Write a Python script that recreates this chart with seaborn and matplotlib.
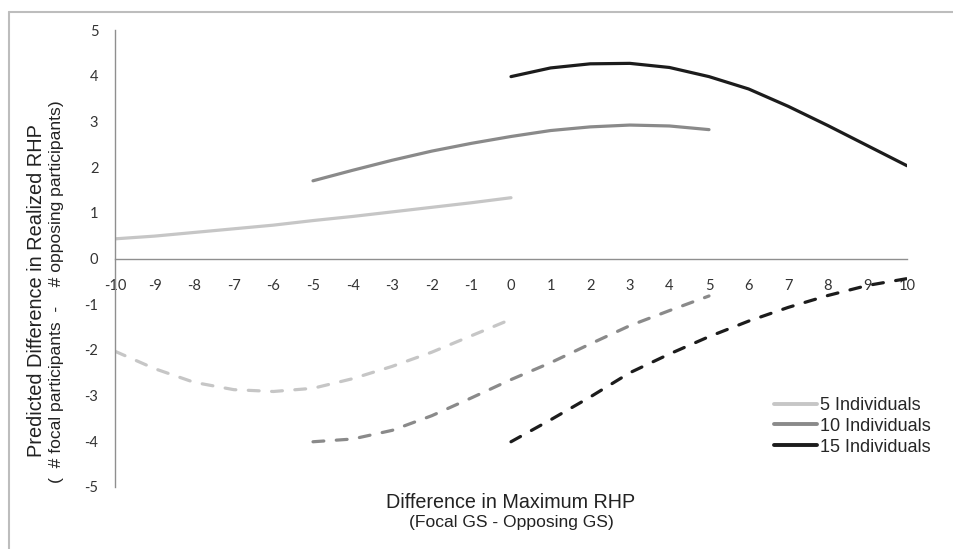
import numpy as np
import pandas as pd
import matplotlib
matplotlib.use("Agg")
import matplotlib.pyplot as plt
import seaborn as sns
from matplotlib.lines import Line2D

# values
groups = ["5 Individuals", "10 Individuals", "15 Individuals"]
colors = ["#c6c6c6", "#8a8a8a", "#1c1c1c"]

x_5 = [-10, -9, -8, -7, -6, -5, -4, -3, -2, -1, 0]
x_10 = [-5, -4, -3, -2, -1, 0, 1, 2, 3, 4, 5]
x_15 = [0, 1, 2, 3, 4, 5, 6, 7, 8, 9, 10]

# solid curves
solid_5 = [0.43, 0.49, 0.57, 0.65, 0.73, 0.83, 0.92, 1.02, 1.12, 1.22, 1.33]
solid_10 = [1.70, 1.93, 2.15, 2.35, 2.52, 2.67, 2.80, 2.88, 2.92, 2.90, 2.82]
solid_15 = [3.98, 4.17, 4.26, 4.27, 4.18, 3.98, 3.71, 3.33, 2.91, 2.47, 2.03]

# dashed curves
dashed_5 = [-2.03, -2.41, -2.71, -2.87, -2.91, -2.84, -2.63, -2.36, -2.05, -1.69, -1.33]
dashed_10 = [-4.01, -3.95, -3.76, -3.44, -3.05, -2.65, -2.28, -1.87, -1.47, -1.14, -0.82]
dashed_15 = [-4.01, -3.53, -3.03, -2.50, -2.09, -1.71, -1.37, -1.07, -0.81, -0.59, -0.44]

xs = [x_5, x_10, x_15]
solids = [solid_5, solid_10, solid_15]
dashes_ = [dashed_5, dashed_10, dashed_15]

rows = []
for g, x, s, d in zip(groups, xs, solids, dashes_):
    for xi, si, di in zip(x, s, d):
        rows.append({"group": g, "x": xi, "solid": si, "dashed": di})
df = pd.DataFrame(rows)

sns.set_style("white")
plt.rcParams["font.family"] = ["Liberation Sans", "DejaVu Sans"]
plt.rcParams["axes.unicode_minus"] = False

fig = plt.figure(figsize=(9.54, 5.49), dpi=100)
ax = fig.add_axes([115 / 954, 1 - 487 / 549, (907 - 115) / 954, (487 - 30) / 549])

pal = dict(zip(groups, colors))
sns.lineplot(data=df, x="x", y="solid", hue="group", palette=pal, linewidth=2.3,
             legend=False, ax=ax)
sns.lineplot(data=df, x="x", y="dashed", hue="group", palette=pal, linewidth=2.3,
             legend=False, ax=ax)
for line in ax.lines[3:]:
    line.set_dashes((3.4, 3.9))
    line.set_dash_capstyle("round")
for line in ax.lines[:3]:
    line.set_solid_capstyle("round")

ax.set_xlim(-10, 10)
ax.set_ylim(-5, 5)
ax.set_xticks(range(-10, 11))
ax.set_yticks(range(-5, 6))
ax.set_xlabel("")
ax.set_ylabel("")

axis_gray = "#8f8f8f"
for side in ["top", "right"]:
    ax.spines[side].set_visible(False)
ax.spines["bottom"].set_position(("data", 0))
for side in ["left", "bottom"]:
    ax.spines[side].set_color(axis_gray)
    ax.spines[side].set_linewidth(1.0)
ax.tick_params(axis="both", direction="out", color=axis_gray, width=1.0, length=4,
               labelcolor="#333333", labelsize=10.5)
ax.tick_params(axis="x", pad=11)
ax.tick_params(axis="y", pad=8)
for lab in ax.get_xticklabels() + ax.get_yticklabels():
    lab.set_fontfamily(["Lato", "DejaVu Sans"])

# axis titles
fig.text(37 / 954, 1 - 291 / 549, "Predicted Difference in Realized RHP", rotation=90,
         ha="center", va="center", fontsize=14.4, color="#222222")
fig.text(57 / 954, 1 - 292 / 549, "(  # focal participants  -    # opposing participants)",
         rotation=90, ha="center", va="center", fontsize=12.6, color="#222222")
fig.text(511 / 954, 1 - 503 / 549, "Difference in Maximum RHP", ha="center", va="center",
         fontsize=14.2, color="#222222")
fig.text(511 / 954, 1 - 523 / 549, "(Focal GS - Opposing GS)", ha="center", va="center",
         fontsize=12.6, color="#222222")

handles = [Line2D([], [], color=c, lw=2.8) for c in colors]
ax.legend(handles, groups, loc="upper left", bbox_to_anchor=(774 / 954, 1 - 397 / 549),
          bbox_transform=fig.transFigure, frameon=False, fontsize=13,
          handlelength=2.4, handletextpad=0.15, labelspacing=0.21, borderpad=0,
          borderaxespad=0)

# figure border (left and top edges)
fig.add_artist(Line2D([9 / 954, 9 / 954], [0, 1 - 12 / 549], color="#bdbdbd", lw=1.5,
                      transform=fig.transFigure))
fig.add_artist(Line2D([9 / 954, 1], [1 - 12 / 549, 1 - 12 / 549], color="#bdbdbd", lw=1.5,
                      transform=fig.transFigure))

fig.savefig("out.png", dpi=100)
